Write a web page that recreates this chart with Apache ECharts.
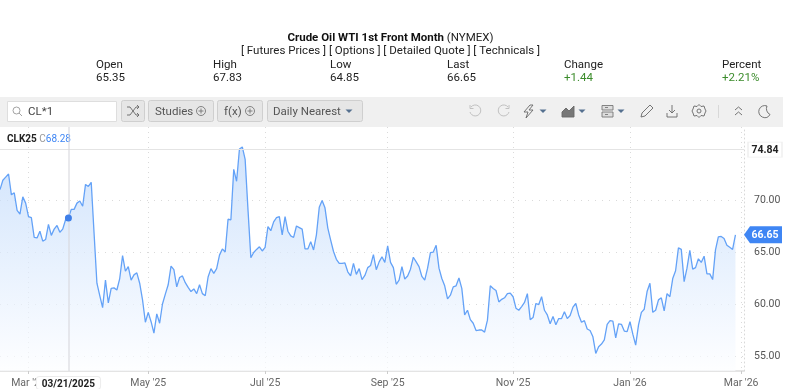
<!DOCTYPE html>
<html>
<head>
<meta charset="utf-8">
<title>Crude Oil WTI</title>
<style>
    html, body { margin: 0; padding: 0; background: #fff; }
    #chart { width: 800px; height: 389px; }
</style>
<script src="https://cdn.jsdelivr.net/npm/echarts@6/dist/echarts.min.js"></script>
</head>
<body>
<div id="chart"></div>
<script>
// 报价数据
const quoteNames = ['Open', 'High', 'Low', 'Last', 'Change', 'Percent'];
const quoteValues = ['65.35', '67.83', '64.85', '66.65', '+1.44', '+2.21%'];

// 交易日：周一至周五，去掉这些休市日
const holidays = ['2025-04-18', '2025-05-26', '2025-06-19', '2025-07-04', '2025-09-01',
    '2025-11-27', '2025-12-25', '2026-01-01', '2026-01-19', '2026-02-16'];
const firstDay = '2025-02-17';
const lastDay = '2026-03-03';

const tickDates = ['2025-03-03', '2025-05-01', '2025-07-01', '2025-09-02', '2025-11-03', '2026-01-02', '2026-03-02'];
const tickLabels = ["Mar '25", "May '25", "Jul '25", "Sep '25", "Nov '25", "Jan '26", "Mar '26"];
const priceTicks = [55, 60, 65, 70];

const prices = [
    71.0, 71.9, 72.2, 72.5, 70.5, 70.7, 69.0, 68.65, 70.3, 69.7, 68.4, 68.3, 66.4, 66.35,
    67.0, 66.05, 66.2, 67.65, 66.6, 67.2, 67.55, 66.9, 67.2, 68.1, 68.28, 69.1, 69.1, 69.7,
    69.9, 69.4, 71.5, 71.3, 71.7, 66.8, 62.0, 60.8, 59.65, 62.3, 60.1, 61.5, 61.55, 61.35,
    62.45, 64.65, 63.15, 63.6, 62.3, 62.8, 63.0, 62.0, 60.4, 58.25, 59.2, 58.3, 57.2, 59.05,
    58.15, 60.0, 60.95, 61.85, 63.65, 63.3, 61.65, 62.55, 62.7, 62.05, 61.6, 61.2, 61.45, 61.0,
    61.85,
    61.0, 60.8, 62.6, 63.4, 62.95, 63.4, 64.7, 65.3, 65.0, 68.15, 68.1, 72.95, 71.8, 74.9,
    75.1, 73.9, 69.05, 64.45, 64.95, 65.25, 65.5, 65.1, 65.45, 67.45, 67.05, 67.9, 68.3, 68.4,
    66.65, 68.4, 67.0, 66.55, 66.4, 67.5, 67.35, 67.2, 65.3, 65.3, 66.0, 65.2, 66.65, 69.3,
    69.95, 69.25, 67.3, 66.15, 65.05, 64.3, 63.9, 63.9, 63.95, 63.1, 62.7, 63.9, 62.85, 63.4,
    62.35, 62.75, 63.5, 63.7, 64.75, 63.3, 64.05, 64.55, 64.0, 65.6, 64.0, 63.5, 61.9, 62.3,
    63.6, 62.4, 62.7, 63.35, 64.5, 64.05, 63.6, 62.65, 62.3, 63.45, 64.95, 65.0, 65.65, 63.45,
    62.45, 61.75, 60.5, 60.85, 61.65, 61.75, 62.5, 61.5, 58.95, 59.4, 58.5, 58.15, 57.45, 57.5,
    57.5, 57.3, 58.45, 61.75, 61.5, 61.3, 60.2, 60.45, 60.6, 61.0, 61.05, 60.7, 59.6, 59.4,
    59.75, 60.15, 61.0, 58.5, 58.7, 60.05, 59.95, 60.7, 59.4, 58.95, 58.1, 58.8, 58.0, 58.6,
    58.6, 59.25, 58.6, 58.9, 59.7, 60.05, 58.95, 58.25, 58.4, 57.6, 57.45, 56.85, 55.25, 55.9,
    56.15, 56.55, 58.05, 58.4, 58.35, 56.75, 58.1, 58.05, 57.4, 57.35, 58.3, 57.1, 56.05, 58.0,
    59.2, 59.5, 61.2, 62.0, 59.2, 59.4, 60.4, 60.6, 59.35, 61.0, 60.7, 62.45, 63.2, 65.4,
    65.25, 62.15, 63.45, 65.15, 63.35, 63.5, 64.35, 64.0, 64.6, 62.9, 62.9, 62.35, 65.2, 66.45,
    66.5, 66.3, 65.65, 65.45, 65.25, 66.65
];

const highLine = 74.84;
const lastPrice = 66.65;
const cursorDate = '2025-03-21';

const categories = [];
for (let d = new Date(firstDay + 'T00:00:00Z'); d <= new Date(lastDay + 'T00:00:00Z'); d.setUTCDate(d.getUTCDate() + 1)) {
    const key = d.toISOString().slice(0, 10);
    const day = d.getUTCDay();
    if (day !== 0 && day !== 6 && !holidays.includes(key)) {
        categories.push(key);
    }
}

const FONT = 'Roboto, "Liberation Sans", sans-serif';
const isTick = (index) => tickDates.includes(categories[index]);

function label(x, y, text, extra) {
    return {
        type: 'text', x: x, y: y, z: 10,
        style: Object.assign({text: text, fontFamily: FONT, fontSize: 11.5, fill: '#222', textVerticalAlign: 'middle'}, extra)
    };
}

function button(x, w) {
    return {
        type: 'rect', z: 5,
        shape: {x: x + 0.5, y: 100.5, width: w, height: 21, r: 2},
        style: {fill: '#e6e6e6', stroke: '#cfcfcf'}
    };
}

function caret(cx) {
    return {
        type: 'polygon', z: 10,
        shape: {points: [[cx - 3.5, 109.5], [cx + 3.5, 109.5], [cx, 113]]},
        style: {fill: '#55708f'}
    };
}

// graphic 组件没有 path 类型，这里把图标路径注册成形状
let iconCount = 0;
function icon(pathData, color, fill) {
    const name = 'toolbarIcon' + (iconCount++);
    echarts.graphic.registerShape(name, echarts.graphic.extendPath(pathData));
    return {
        type: name, z: 10,
        style: {fill: fill || 'none', stroke: color || '#666', lineWidth: 0.9}
    };
}

function plusCircle(cx) {
    return icon(`M${cx - 4.5} 111 a4.5 4.5 0 1 0 9 0 a4.5 4.5 0 1 0 -9 0 M${cx - 2.5} 111 H${cx + 2.5} M${cx} 108.5 V113.5`, '#777');
}

const headerX = [96, 213, 330, 447, 564, 722];
const header = [
    {
        type: 'text', x: 390.5, y: 38, z: 10,
        style: {
            text: '{b|Crude Oil WTI 1st Front Month} (NYMEX)',
            rich: {b: {fontWeight: 'bold', fontFamily: FONT, fontSize: 11.5, fill: '#111'}},
            fontFamily: FONT, fontSize: 11.5, fill: '#222', textAlign: 'center', textVerticalAlign: 'middle'
        }
    },
    label(390.5, 51.5, '[ Futures Prices ] [ Options ] [ Detailed Quote ] [ Technicals ]', {textAlign: 'center'})
];
quoteNames.forEach((name, i) => {
    header.push(label(headerX[i], 65, name));
    header.push(label(headerX[i], 78, quoteValues[i], {fill: i >= 4 ? '#3c8c2c' : '#222'}));
});

const toolbar = [
    {type: 'rect', z: 1, shape: {x: 0, y: 97, width: 783, height: 30}, style: {fill: '#f0f0f0'}},
    {type: 'rect', z: 5, shape: {x: 7.5, y: 101.5, width: 109, height: 20}, style: {fill: '#fff', stroke: '#dedede'}},
    icon('M13 110.5 a3.5 3.5 0 1 0 7 0 a3.5 3.5 0 1 0 -7 0 M19 113 L22 116', '#999'),
    label(28, 112, 'CL*1', {fill: '#444'}),
    button(121, 23),
    icon('M127 107 H130 L136 115 H139 M127 115 H130 L136 107 H139 M137 105 L139 107 L137 109 M137 113 L139 115 L137 117'),
    button(148, 65),
    label(155, 112, 'Studies', {fill: '#555'}),
    plusCircle(201),
    button(217, 45),
    label(224, 112, 'f(x)', {fill: '#555'}),
    plusCircle(250),
    button(267, 95),
    label(273, 112, 'Daily Nearest', {fill: '#555'}),
    caret(349),
    icon('M471 107 a5.5 5.5 0 1 1 -1 5 M470 105 V108.5 H473.5', '#bbb'),
    icon('M508 107 a5.5 5.5 0 1 0 1 5 M509 105 V108.5 H505.5', '#bbb'),
    icon('M530 105 L524 112 H528 L526 118 L533 110 H529 L533 105 Z'),
    caret(543),
    icon('M562 117 V112 L566 108 L569 111 L574 106 V117 Z', '#666', '#777'),
    caret(582),
    icon('M602 105.5 H613 V110 H602 Z M602 112 H613 V117 H602 Z M605 107.5 H608 M605 114.5 H608', '#777', '#ddd'),
    caret(621),
    icon('M641 117 L642 113 L650 105 L653 108 L645 116 Z'),
    icon('M672 105 V113 M669 110 L672 113 L675 110 M667 113 V117 H677 V113'),
    icon('M699 104.5 L701 106.5 L704 106 L705 109 L706 111 L705 113 L704 116 L701 115.5 L699 117.5 L697 115.5 L694 116 L693 113 L692 111 L693 109 L694 106 L697 106.5 Z M697 111 a2 2 0 1 0 4 0 a2 2 0 1 0 -4 0'),
    {type: 'line', z: 5, shape: {x1: 718.5, y1: 105, x2: 718.5, y2: 118}, style: {stroke: '#d8d8d8'}},
    icon('M735 110 L738.5 107 L742 110 M735 115 L738.5 112 L742 115'),
    icon('M767 106 a6 6 0 1 0 3 8.5 a6.5 6.5 0 0 1 -3 -8.5'),
    {
        type: 'text', x: 7, y: 139, z: 10,
        style: {
            text: '{b|CLK25} {c|C}{v|68.28}',
            rich: {
                b: {fontWeight: 'bold', fontFamily: FONT, fontSize: 10, fill: '#222'},
                c: {fontFamily: FONT, fontSize: 10, fill: '#999'},
                v: {fontFamily: FONT, fontSize: 10, fill: '#3f86f4'}
            },
            fontSize: 10, fontFamily: FONT, textVerticalAlign: 'middle'
        }
    }
];

const chart = echarts.init(document.getElementById('chart'));
const lastCategory = categories[categories.length - 1];

const option = {
    animation: false,
    textStyle: {fontFamily: FONT},
    // v6 默认会为了放下坐标轴文字而缩小 grid，这里关掉
    grid: {left: 0, right: 56, top: 127, bottom: 18, outerBoundsMode: 'none'},
    graphic: header.concat(toolbar),
    xAxis: {
        type: 'category',
        data: categories,
        boundaryGap: false,
        axisLine: {lineStyle: {color: '#dcdcdc', width: 1.5}},
        axisTick: {interval: (i) => isTick(i), length: 3, lineStyle: {color: '#ccc'}},
        splitLine: {show: true, interval: (i) => isTick(i), lineStyle: {color: '#dadada', type: [1, 4]}},
        axisLabel: {
            interval: (i) => isTick(i),
            formatter: (value) => tickLabels[tickDates.indexOf(value)],
            color: '#666', fontSize: 10.5, margin: 7, hideOverlap: false
        },
        axisPointer: {
            show: true,
            status: 'show',
            value: categories.indexOf(cursorDate),
            snap: false,
            triggerTooltip: false,
            lineStyle: {color: 'rgba(215, 215, 220, 0.55)', width: 2, type: 'solid'},
            label: {
                show: true,
                formatter: () => '03/21/2025',
                backgroundColor: '#fff',
                borderColor: '#ececec',
                borderWidth: 1,
                color: '#222',
                fontWeight: 'bold',
                fontSize: 10,
                margin: 6,
                padding: [2, 5, 0, 5]
            }
        }
    },
    yAxis: {
        type: 'value',
        position: 'right',
        min: 53.56,
        max: 77.02,
        axisLine: {show: true, lineStyle: {color: '#d8d8d8', type: [1, 3]}},
        axisTick: {show: false, customValues: priceTicks},
        splitLine: {show: true, lineStyle: {color: '#dadada', type: [1, 6]}},
        axisLabel: {
            customValues: priceTicks,
            formatter: (value) => value.toFixed(2),
            color: '#555', fontSize: 10.5, margin: 10
        }
    },
    series: [
        {
            name: 'CLK25',
            type: 'line',
            data: prices,
            showSymbol: false,
            smooth: false,
            lineStyle: {color: '#64a2f7', width: 1.3},
            areaStyle: {
                color: new echarts.graphic.LinearGradient(0, 0, 0, 1, [
                    {offset: 0, color: '#bcd7fa'},
                    {offset: 1, color: '#fcfdff'}
                ])
            },
            markLine: {
                silent: true,
                symbol: 'none',
                label: {show: false},
                lineStyle: {color: '#e4e4e4', width: 1, type: 'solid'},
                data: [{yAxis: highLine}]
            },
            markPoint: {
                silent: true,
                z: 100,
                data: [
                    {
                        coord: [cursorDate, prices[categories.indexOf(cursorDate)]],
                        symbol: 'circle',
                        symbolSize: 7,
                        itemStyle: {color: '#3f7fe8'},
                        label: {show: false}
                    },
                    {
                        coord: [lastCategory, lastPrice],
                        symbol: 'path://M0 8 L6 0 H38 V16 H6 Z',
                        symbolSize: [38, 17],
                        symbolOffset: ['50%', 0],
                        symbolKeepAspect: false,
                        itemStyle: {color: '#3f86f4'},
                        label: {show: true, position: 'inside', formatter: lastPrice.toFixed(2), color: '#fff', fontWeight: 'bold', fontSize: 10.5, offset: [2, 1]}
                    },
                    {
                        coord: [lastCategory, highLine],
                        symbol: 'rect',
                        symbolSize: [34, 15],
                        symbolOffset: [21, 0],
                        itemStyle: {color: '#fff', borderColor: '#f0f0f0', borderWidth: 1},
                        label: {show: true, position: 'inside', formatter: highLine.toFixed(2), color: '#222', fontWeight: 'bold', fontSize: 10.5, offset: [0, 1]}
                    }
                ]
            }
        }
    ]
};

chart.setOption(option);
</script>
</body>
</html>
